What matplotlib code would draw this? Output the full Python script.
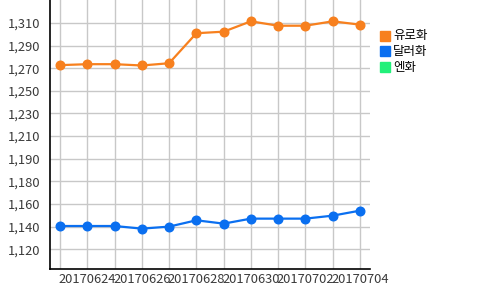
import matplotlib
matplotlib.use("Agg")
import matplotlib.pyplot as plt
from matplotlib.patches import Rectangle

plt.rcParams['font.family'] = ['Noto Sans CJK KR', 'DejaVu Sans']

dates = ["20170623", "20170624", "20170625", "20170626", "20170627", "20170628",
         "20170629", "20170630", "20170701", "20170702", "20170703", "20170704"]
eur = [1273.1, 1273.9, 1273.9, 1272.8, 1274.7, 1299.9,
       1301.2, 1309.9, 1306.2, 1306.2, 1309.9, 1307.1]
usd = [1138.0, 1138.0, 1138.0, 1135.8, 1137.5, 1142.8,
       1140.0, 1144.2, 1144.2, 1144.2, 1146.7, 1150.9]
series_names = ["유로화", "달러화", "엔화"]
series_colors = ["#F7801E", "#0A6FF0", "#22F07A"]

ytick_start = 1118.5
ytick_step = 19.0
ytick_labels = ["1,120", "1,140", "1,160", "1,180", "1,190", "1,210",
                "1,230", "1,250", "1,270", "1,290", "1,310"]

fig = plt.figure(figsize=(5, 2.9), dpi=100)
ax = fig.add_axes([0.1, 0.072, 0.64, 0.928])

x = list(range(len(dates)))
ax.plot(x, eur, color=series_colors[0], lw=1.6, marker='o', ms=6.2, mec=series_colors[0], zorder=3)
ax.plot(x, usd, color=series_colors[1], lw=1.6, marker='o', ms=6.2, mec=series_colors[1], zorder=3)

ax.set_xlim(-0.37, len(dates) - 1 + 0.37)
ax.set_ylim(1101.8, 1327.8)
yt = [ytick_start + ytick_step * i for i in range(len(ytick_labels))]
ax.set_yticks(yt)
ax.set_yticklabels(ytick_labels, fontsize=9.3, color='#3a3a3a')
ax.set_xticks(x)
ax.set_xticklabels([d if i % 2 == 1 else "" for i, d in enumerate(dates)], fontsize=9.3, color='#3a3a3a')
ax.tick_params(length=0, pad=3)
ax.tick_params(axis='y', pad=7)
ax.grid(True, color='#c8c8c8', lw=1)
ax.set_axisbelow(True)
for s in ['top', 'right']:
    ax.spines[s].set_visible(False)
for s in ['left', 'bottom']:
    ax.spines[s].set_color('black')
    ax.spines[s].set_linewidth(1.2)

for i, (n, c) in enumerate(zip(series_names, series_colors)):
    yc = 1 - (35.5 + 15.8 * i) / 290
    fig.patches.append(Rectangle((380 / 500, yc - 5 / 290), 10 / 500, 10 / 290,
                                 transform=fig.transFigure, color=c, figure=fig))
    fig.text(393 / 500, yc, n, fontsize=9, va='center', ha='left', color='black')

fig.savefig("out.png", dpi=100)
